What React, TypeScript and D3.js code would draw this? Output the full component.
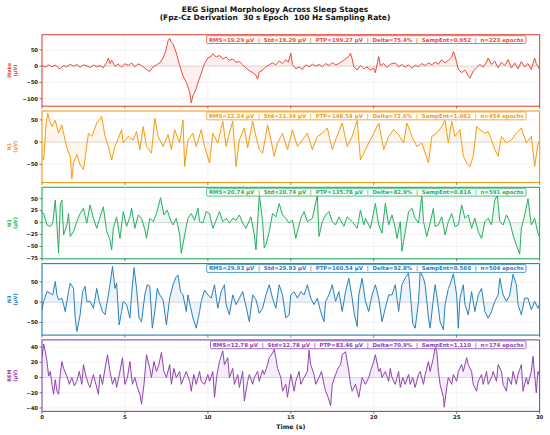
import React, { useEffect, useLayoutEffect, useRef, useState } from "react";
import * as d3 from "d3";

// ---------------- DATA ----------------
const stageNames = ["Wake", "N1", "N2", "N3", "REM"];
const stageColors = ["#e74c3c", "#f39c12", "#27ae60", "#2980b9", "#8e44ad"];

const xTicks = [0, 5, 10, 15, 20, 25, 30];

const wakeSignal: [number, number][] = [
  [0.0, 2], [0.2, -3], [0.4, 4], [0.6, -2], [0.8, 3], [1.0, -6], [1.1, -8], [1.3, 2], [1.5, -2], [1.7, 6],
  [1.9, 0], [2.1, 5], [2.3, -3], [2.5, 4], [2.7, 1], [2.9, -4], [3.1, 3], [3.3, -2], [3.5, 2], [3.7, -5],
  [3.9, 12], [4.0, 25], [4.1, 8], [4.2, 18], [4.4, 0], [4.6, 6], [4.8, -3], [5.0, 8], [5.2, 2], [5.4, 10],
  [5.6, -2], [5.8, 7], [6.0, 2], [6.2, -6], [6.4, -14], [6.5, -16], [6.7, -2], [6.9, 4], [7.1, 10], [7.3, 25],
  [7.45, 45], [7.6, 78], [7.7, 86], [7.8, 72], [7.9, 68], [8.1, 40], [8.3, 2], [8.5, -30], [8.7, -50], [8.9, -78],
  [9.0, -113], [9.1, -90], [9.2, -82], [9.4, -52], [9.6, -22], [9.8, 8], [10.0, 25], [10.2, 30], [10.3, 38], [10.5, 28],
  [10.7, 33], [10.9, 22], [11.1, 28], [11.3, 18], [11.5, 22], [11.7, 12], [11.9, 14], [12.1, 4], [12.3, -6], [12.5, -14],
  [12.7, -20], [12.9, -28], [13.0, -40], [13.1, -18], [13.3, -12], [13.5, -2], [13.7, 4], [13.9, 10], [14.1, 4], [14.3, 16],
  [14.5, 8], [14.7, 20], [14.85, 12], [15.0, 40], [15.1, 5], [15.3, -8], [15.5, -3], [15.7, -10], [15.9, 4], [16.1, -2],
  [16.3, 6], [16.5, 0], [16.7, 5], [16.9, -2], [17.1, 8], [17.3, 2], [17.5, 11], [17.7, 4], [17.9, 8], [18.1, 15],
  [18.3, 22], [18.5, 30], [18.6, 40], [18.7, 22], [18.8, -2], [19.0, -12], [19.2, 2], [19.4, -8], [19.6, -3], [19.8, -12],
  [20.0, -6], [20.1, -20], [20.3, 30], [20.4, 2], [20.6, 8], [20.8, -4], [21.0, 6], [21.3, 10], [21.5, -2], [21.7, 5],
  [21.9, -3], [22.1, 4], [22.3, -6], [22.5, 3], [22.7, -2], [22.9, 8], [23.1, 2], [23.3, 10], [23.5, 4], [23.7, 12],
  [23.9, 6], [24.1, 20], [24.3, 10], [24.5, 18], [24.7, 28], [24.8, 45], [24.9, 32], [25.1, -10], [25.3, -20], [25.5, -12],
  [25.7, -30], [25.8, -37], [26.0, -15], [26.2, -5], [26.4, 5], [26.6, -3], [26.8, 12], [26.9, 25], [27.1, 5], [27.3, 15],
  [27.5, -5], [27.7, 12], [27.9, 2], [28.1, 20], [28.3, -6], [28.5, 10], [28.7, -8], [28.9, 14], [29.1, -2], [29.3, 8],
  [29.5, -10], [29.7, 25], [29.8, 8], [30.0, -10],
];

const n1Signal: [number, number][] = [
  [0.0, -32], [0.1, -40], [0.25, 43], [0.35, 65], [0.45, 50], [0.6, 35], [0.8, 49], [1.0, 20], [1.2, 39], [1.3, 20],
  [1.5, -13], [1.7, -32], [1.8, -83], [1.9, -47], [2.1, -28], [2.3, -51], [2.5, -62], [2.6, -36], [2.8, 20], [3.0, 13],
  [3.3, 43], [3.6, 58], [3.8, 13], [4.0, -10], [4.2, -40], [4.4, -10], [4.6, 8], [4.8, 28], [4.9, -2], [5.2, 13],
  [5.5, 5], [5.7, 24], [5.9, -17], [6.1, 35], [6.3, -10], [6.6, -25], [6.8, 54], [7.0, 13], [7.3, -10], [7.6, 17],
  [7.8, -17], [8.0, 28], [8.3, -2], [8.5, 50], [8.6, -55], [8.8, 5], [9.1, 20], [9.3, -10], [9.6, 28], [9.8, -10],
  [10.1, -47], [10.3, 20], [10.6, -2], [10.9, 47], [11.1, -10], [11.3, 20], [11.5, 47], [11.7, -55], [11.9, 5], [12.2, 32],
  [12.4, -13], [12.7, 47], [12.9, 13], [13.1, -17], [13.3, -25], [13.6, 39], [13.8, 5], [14.0, -32], [14.2, -2], [14.5, 20],
  [14.8, -17], [14.9, -2], [15.1, 28], [15.4, -10], [15.7, 5], [16.0, 20], [16.3, -17], [16.6, 13], [16.9, 20], [17.2, 32],
  [17.5, -17], [17.7, 5], [18.1, 43], [18.4, -10], [18.7, 13], [19.0, 49], [19.2, -40], [19.4, -25], [19.7, -2], [20.0, 20],
  [20.3, 43], [20.6, -17], [20.9, 13], [21.2, 28], [21.5, 17], [21.8, -2], [22.0, 43], [22.3, 13], [22.6, -10], [22.9, -2],
  [23.3, -47], [23.5, 13], [23.8, 20], [24.1, 35], [24.3, 49], [24.5, -2], [24.7, 47], [24.9, 13], [25.2, 28], [25.4, -32],
  [25.6, -47], [25.8, -55], [26.0, -32], [26.2, 35], [26.4, 28], [26.7, 20], [26.9, 24], [27.1, 5], [27.3, -17], [27.5, -32],
  [27.7, 13], [28.0, -2], [28.3, 5], [28.6, 20], [28.9, 32], [29.2, -2], [29.5, 13], [29.7, -55], [29.9, -6], [30.0, 5],
];

const n2Signal: [number, number][] = [
  [0.0, 23], [0.1, 19], [0.3, -5], [0.5, -8], [0.65, -1], [0.8, 47], [0.9, -5], [1.0, -64], [1.1, 37], [1.2, 47],
  [1.3, -26], [1.5, -5], [1.6, 19], [1.7, -29], [1.9, -19], [2.1, 2], [2.3, 19], [2.5, 30], [2.7, -1], [2.9, 37],
  [3.1, 9], [3.3, -12], [3.5, 12], [3.7, 33], [3.9, -19], [4.1, -36], [4.2, -57], [4.3, -12], [4.5, 12], [4.7, -33],
  [4.9, 23], [5.1, -8], [5.3, 12], [5.4, 30], [5.6, -12], [5.8, 16], [6.0, 9], [6.2, -15], [6.3, -33], [6.5, 9],
  [6.7, 2], [6.9, 19], [7.15, 52], [7.35, 16], [7.55, 26], [7.75, 5], [7.9, -5], [8.1, 9], [8.3, -26], [8.4, -64],
  [8.6, -26], [8.8, 9], [9.0, 19], [9.2, 5], [9.4, 30], [9.5, 2], [9.7, -1], [9.9, 23], [10.1, 19], [10.3, -12],
  [10.5, 5], [10.7, 23], [10.9, 2], [11.1, 9], [11.3, -1], [11.5, 9], [11.7, 5], [11.9, 16], [12.1, -1], [12.3, -12],
  [12.6, 12], [12.8, -26], [12.9, -57], [13.0, -1], [13.1, 58], [13.3, 2], [13.4, -53], [13.5, -47], [13.7, -19], [13.9, 19],
  [14.1, 12], [14.3, 40], [14.5, 16], [14.7, 9], [14.9, -1], [15.1, 5], [15.3, -33], [15.6, 9], [15.8, 23], [16.0, 2],
  [16.3, 9], [16.6, 57], [16.7, -29], [16.9, 2], [17.1, 16], [17.3, 23], [17.5, 2], [17.7, -5], [17.9, 12], [18.2, -8],
  [18.4, 12], [18.7, 2], [19.0, -12], [19.2, 26], [19.4, -5], [19.5, 9], [19.8, -12], [20.1, 40], [20.3, -5], [20.5, -22],
  [20.7, 40], [20.9, -5], [21.1, 16], [21.3, -12], [21.4, -33], [21.6, 2], [21.7, -60], [21.9, -19], [22.1, 23], [22.3, 30],
  [22.5, 9], [22.7, -1], [22.9, 58], [23.0, 2], [23.2, -29], [23.4, -1], [23.6, 30], [23.7, -8], [23.9, -5], [24.1, 12],
  [24.3, -26], [24.5, 2], [24.7, 19], [24.9, -8], [25.1, -5], [25.3, 37], [25.5, 9], [25.7, 16], [25.9, -12], [26.1, 9],
  [26.3, -19], [26.5, -33], [26.7, 2], [26.9, 9], [27.1, -5], [27.3, 47], [27.45, 58], [27.6, 2], [27.8, -5], [28.0, 16],
  [28.2, 2], [28.4, -26], [28.6, -47], [28.8, -66], [28.9, -12], [29.1, 16], [29.3, 50], [29.5, -5], [29.7, 9], [29.9, -22],
  [30.0, -30],
];

const n3Signal: [number, number][] = [
  [0.0, -19], [0.1, 2], [0.3, 26], [0.5, 22], [0.65, 18], [0.8, 51], [0.9, 18], [1.0, 6], [1.2, 10], [1.3, -6],
  [1.4, -23], [1.6, 26], [1.7, 47], [1.9, 34], [2.0, -39], [2.1, -72], [2.3, -31], [2.45, 26], [2.6, 39], [2.7, 2],
  [2.9, 2], [3.1, -15], [3.3, 34], [3.45, 2], [3.65, -23], [3.8, -31], [4.0, 18], [4.1, 43], [4.25, 88], [4.4, 34],
  [4.5, 47], [4.65, -56], [4.8, -23], [4.9, 2], [5.1, -6], [5.3, -39], [5.4, 18], [5.55, 85], [5.7, 34], [5.85, -39],
  [6.0, -48], [6.2, 18], [6.35, 43], [6.5, 39], [6.65, -64], [6.8, -23], [6.95, 34], [7.1, 18], [7.3, 6], [7.5, -56],
  [7.7, 10], [7.9, 43], [8.1, 63], [8.2, 67], [8.35, 26], [8.5, 18], [8.7, -23], [8.8, 18], [8.95, -11], [9.1, -39],
  [9.3, -64], [9.5, -23], [9.6, 2], [9.8, 30], [10.0, 18], [10.2, 10], [10.4, 43], [10.6, -15], [10.8, 26], [11.0, 43],
  [11.1, -6], [11.3, -31], [11.5, 18], [11.7, -6], [11.9, 10], [12.1, 26], [12.3, -11], [12.5, -48], [12.7, 18], [12.9, 6],
  [13.1, -27], [13.3, -15], [13.5, 18], [13.7, 43], [13.9, 10], [14.1, -15], [14.3, 43], [14.5, 18], [14.7, -39], [14.9, -31],
  [15.0, 18], [15.2, 26], [15.4, 10], [15.6, 26], [15.8, 18], [16.0, 43], [16.2, 10], [16.4, -6], [16.6, 10], [16.8, -23],
  [17.0, -48], [17.1, 2], [17.3, 18], [17.5, 43], [17.7, 2], [17.9, 26], [18.1, -23], [18.3, 26], [18.5, 59], [18.7, 10],
  [18.8, -23], [19.0, -60], [19.1, 18], [19.3, 59], [19.5, 2], [19.7, -23], [19.9, 18], [20.1, 43], [20.3, 10], [20.5, -48],
  [20.7, -15], [20.9, 18], [21.1, 18], [21.3, 43], [21.5, -23], [21.7, 43], [21.9, 60], [22.1, 72], [22.2, 26], [22.35, -52],
  [22.5, -64], [22.7, 2], [22.8, 75], [23.0, 59], [23.1, 43], [23.3, -39], [23.4, -64], [23.6, 10], [23.7, 43], [23.8, 18],
  [24.0, -48], [24.2, -68], [24.3, -6], [24.5, 34], [24.6, 43], [24.8, 70], [25.0, 18], [25.1, -64], [25.2, 10], [25.4, 43],
  [25.5, -6], [25.7, -31], [25.9, 26], [26.1, -23], [26.3, 18], [26.5, 34], [26.7, -23], [26.9, -39], [27.1, -23], [27.3, 2],
  [27.5, 18], [27.6, 59], [27.8, 18], [28.0, 2], [28.2, 18], [28.4, 69], [28.6, 43], [28.7, -6], [28.9, -31], [29.1, 10],
  [29.3, 10], [29.5, -19], [29.7, 2], [29.9, -15], [30.0, -5],
];

const remSignal: [number, number][] = [
  [0.0, 26], [0.1, 44], [0.2, 34], [0.3, 21], [0.4, 2], [0.5, 8], [0.6, -9], [0.7, -22], [0.8, -3], [0.9, -18],
  [1.0, -22], [1.1, 4], [1.2, 21], [1.3, 12], [1.5, 2], [1.65, -9], [1.8, 0], [1.95, -11], [2.1, -5], [2.25, 8],
  [2.4, -9], [2.5, 17], [2.65, 2], [2.8, -9], [2.9, -13], [3.1, 4], [3.25, -9], [3.4, -22], [3.5, 4], [3.65, -9],
  [3.8, 12], [3.95, 30], [4.1, 8], [4.25, -9], [4.4, 0], [4.5, -13], [4.7, 8], [4.85, 26], [5.0, -9], [5.15, 0],
  [5.3, 21], [5.45, -9], [5.6, 0], [5.75, -13], [5.9, -22], [6.0, -35], [6.15, -9], [6.3, 30], [6.5, 12], [6.6, 0],
  [6.75, 21], [6.9, 8], [7.05, 17], [7.2, 33], [7.35, 8], [7.5, 0], [7.7, 17], [7.8, -9], [7.95, 12], [8.1, 0],
  [8.3, 8], [8.4, -9], [8.55, 0], [8.7, 8], [8.9, -5], [9.0, -18], [9.15, 4], [9.3, -9], [9.5, 8], [9.6, -5],
  [9.8, -9], [10.0, 4], [10.1, -5], [10.3, 8], [10.4, -26], [10.55, 4], [10.7, 21], [10.9, 35], [11.0, 17], [11.2, 26],
  [11.3, 0], [11.5, 12], [11.6, -9], [11.8, 4], [11.9, -13], [12.1, 8], [12.2, -31], [12.4, -5], [12.5, 4], [12.7, -9],
  [12.8, 0], [13.0, 8], [13.1, -5], [13.3, 10], [13.4, 4], [13.6, 17], [13.7, 26], [13.9, 32], [14.0, 37], [14.1, 26],
  [14.2, 12], [14.4, 0], [14.5, -18], [14.7, -9], [14.8, -26], [15.0, 4], [15.2, -18], [15.3, -5], [15.5, 8], [15.6, -9],
  [15.8, 0], [16.0, 8], [16.1, 36], [16.2, 17], [16.4, 4], [16.5, -9], [16.7, 0], [16.85, 8], [17.0, -9], [17.1, -18],
  [17.25, -26], [17.4, -37], [17.5, -9], [17.7, 4], [17.85, 12], [18.0, 17], [18.1, 30], [18.3, 34], [18.5, 8], [18.6, -9],
  [18.7, -18], [18.9, -9], [19.1, -26], [19.2, -13], [19.3, 0], [19.5, -9], [19.7, 0], [19.8, 8], [20.0, 21], [20.1, 30],
  [20.3, 8], [20.4, 12], [20.5, 0], [20.7, 8], [20.9, -5], [21.0, 12], [21.1, 0], [21.3, -9], [21.5, 8], [21.6, -13],
  [21.75, 0], [21.9, -9], [22.1, 4], [22.2, -9], [22.35, 0], [22.5, -13], [22.7, 4], [22.8, 8], [23.0, -9], [23.1, 4],
  [23.3, 21], [23.4, 8], [23.6, 26], [23.7, 40], [23.8, 34], [23.9, 8], [24.0, -9], [24.2, -26], [24.25, -39], [24.4, -13],
  [24.5, 0], [24.7, -9], [24.8, 4], [25.0, -5], [25.1, 8], [25.3, 17], [25.4, 8], [25.6, 26], [25.7, 17], [25.9, 8],
  [26.0, -9], [26.2, -18], [26.3, -5], [26.5, 4], [26.6, -9], [26.8, 8], [26.9, -9], [27.1, 0], [27.2, 8], [27.4, -5],
  [27.5, 17], [27.7, 8], [27.8, -9], [28.0, -18], [28.1, 0], [28.3, -9], [28.4, 8], [28.6, -9], [28.7, 4], [28.9, 17],
  [29.0, -18], [29.2, 0], [29.3, -9], [29.5, 8], [29.6, 28], [29.8, -20], [29.9, 8], [30.0, 2],
];

const stageSignals = [wakeSignal, n1Signal, n2Signal, n3Signal, remSignal];

const yDomains: [number, number][] = [[-123, 96.6], [-90.8, 70], [-75.6, 73.7], [-81, 95], [-44.5, 49.4]];
const yTickValues = [
  [-100, -50, 0, 50],
  [-50, 0, 50],
  [-75, -50, -25, 0, 25, 50],
  [-50, 0, 50],
  [-40, -20, 0, 20, 40],
];

const statRMS = [19.29, 22.34, 20.74, 29.93, 12.78];
const statStd = [19.29, 22.34, 20.74, 29.93, 12.78];
const statPTP = [199.27, 148.54, 135.78, 160.54, 83.46];
const statDelta = [75.4, 72.6, 82.9, 92.8, 70.9];
const statSampEnt = [0.952, 1.062, 0.816, 0.56, 1.11];
const statEpochs = [223, 454, 591, 504, 174];

const titleLine1 = "EEG Signal Morphology Across Sleep Stages";
const titleLine2 = "(Fpz-Cz Derivation  30 s Epoch  100 Hz Sampling Rate)";
const xLabel = "Time (s)";
const unitLabel = "(\u00b5V)";

// ---------------- LAYOUT ----------------
const W = 550;
const H = 435;
const plotLeft = 42;
const plotRight = 539.6;
const panelTop0 = 34.7;
const panelH = 71.5;
const panelStep = 76.3;
const FONT = "'DejaVu Sans', sans-serif";

const fmtMinus = (v: number) => (v < 0 ? "\u2212" + Math.abs(v) : String(v));

function StatsBox({ text, color, right, top }: { text: string; color: string; right: number; top: number }) {
  const ref = useRef<SVGTextElement>(null);
  const [w, setW] = useState(316);
  useLayoutEffect(() => {
    if (ref.current) setW(ref.current.getComputedTextLength());
  }, [text]);
  const padX = 2.2;
  const boxH = 7.8;
  const x0 = right - w - 2 * padX;
  return (
    <g>
      <rect x={x0} y={top} width={w + 2 * padX} height={boxH} rx={1.2} fill="white" fillOpacity={0.9} stroke={color} strokeWidth={0.8} />
      <text
        ref={ref}
        x={x0 + padX}
        y={top + boxH / 2}
        dy="0.36em"
        fontSize={5.45}
        fontWeight="bold"
        fill={color}
        style={{ whiteSpace: "pre" }}
      >
        {text}
      </text>
    </g>
  );
}

export default function App() {
  useEffect(() => {
    document.body.style.margin = "0";
  }, []);

  const x = d3.scaleLinear().domain([0, 30]).range([plotLeft, plotRight]);

  return (
    <svg width={W} height={H} viewBox={`0 0 ${W} ${H}`} style={{ display: "block", background: "white" }} fontFamily={FONT}>
      <rect x={0} y={0} width={W} height={H} fill="white" />
      <text x={W / 2} y={12} textAnchor="middle" fontSize={7.5} fontWeight="bold" fill="#111">
        {titleLine1}
      </text>
      <text x={W / 2} y={20.2} textAnchor="middle" fontSize={7.5} fontWeight="bold" fill="#111" style={{ whiteSpace: "pre" }}>
        {titleLine2}
      </text>

      {stageNames.map((name, i) => {
        const top = panelTop0 + i * panelStep;
        const bottom = top + panelH;
        const y = d3.scaleLinear().domain(yDomains[i]).range([bottom, top]);
        const color = stageColors[i];
        const data = stageSignals[i];
        const line = d3.line<[number, number]>().x((d) => x(d[0])).y((d) => y(d[1]));
        const area = d3
          .area<[number, number]>()
          .x((d) => x(d[0]))
          .y0(y(0))
          .y1((d) => y(d[1]));
        const clipId = `clip-${i}`;
        const stats = `RMS=${statRMS[i].toFixed(2)} \u00b5V  |  Std=${statStd[i].toFixed(2)} \u00b5V  |  PTP=${statPTP[i].toFixed(
          2
        )} \u00b5V  |  Delta=${statDelta[i].toFixed(1)}%  |  SampEnt=${statSampEnt[i].toFixed(3)}  |  n=${statEpochs[i]} epochs`;
        const midY = (top + bottom) / 2;
        return (
          <g key={name}>
            <defs>
              <clipPath id={clipId}>
                <rect x={plotLeft} y={top} width={plotRight - plotLeft} height={panelH} />
              </clipPath>
            </defs>
            {xTicks.map((t) => (
              <line key={"gx" + t} x1={x(t)} x2={x(t)} y1={top} y2={bottom} stroke="#e8e8e8" strokeWidth={0.5} />
            ))}
            {yTickValues[i].map((v) => (
              <line key={"gy" + v} x1={plotLeft} x2={plotRight} y1={y(v)} y2={y(v)} stroke="#e8e8e8" strokeWidth={0.5} />
            ))}
            <line x1={plotLeft} x2={plotRight} y1={y(0)} y2={y(0)} stroke="#999" strokeOpacity={0.45} strokeWidth={0.6} />
            <g clipPath={`url(#${clipId})`}>
              <path d={area(data) || ""} fill={color} fillOpacity={0.09} stroke="none" />
              <path d={line(data) || ""} fill="none" stroke={color} strokeWidth={1} strokeLinejoin="round" />
            </g>
            <rect x={plotLeft} y={top} width={plotRight - plotLeft} height={panelH} fill="none" stroke={color} strokeWidth={1.1} />
            {yTickValues[i].map((v) => (
              <g key={"ty" + v}>
                <line x1={plotLeft - 2.5} x2={plotLeft} y1={y(v)} y2={y(v)} stroke="#333" strokeWidth={0.6} />
                <text x={plotLeft - 4} y={y(v)} dy="0.35em" textAnchor="end" fontSize={5.3} fontWeight="bold" fill="#222">
                  {fmtMinus(v)}
                </text>
              </g>
            ))}
            {xTicks.map((t) => (
              <line key={"tx" + t} x1={x(t)} x2={x(t)} y1={bottom} y2={bottom + 2.5} stroke="#333" strokeWidth={0.6} />
            ))}
            {i === stageNames.length - 1 &&
              xTicks.map((t) => (
                <text key={"lx" + t} x={x(t)} y={bottom + 5.6} dy="0.35em" textAnchor="middle" fontSize={5.3} fontWeight="bold" fill="#222">
                  {t}
                </text>
              ))}
            <text
              transform={`translate(9.4, ${midY}) rotate(-90)`}
              textAnchor="middle"
              dy="0.35em"
              fontSize={5}
              fontWeight="bold"
              fill={color}
            >
              {name}
            </text>
            <text
              transform={`translate(15, ${midY}) rotate(-90)`}
              textAnchor="middle"
              dy="0.35em"
              fontSize={5}
              fontWeight="bold"
              fill={color}
            >
              {unitLabel}
            </text>
            <StatsBox text={stats} color={color} right={526} top={top + 1} />
          </g>
        );
      })}

      <text x={(plotLeft + plotRight) / 2} y={427} dy="0.35em" textAnchor="middle" fontSize={6.3} fontWeight="bold" fill="#111">
        {xLabel}
      </text>
    </svg>
  );
}
